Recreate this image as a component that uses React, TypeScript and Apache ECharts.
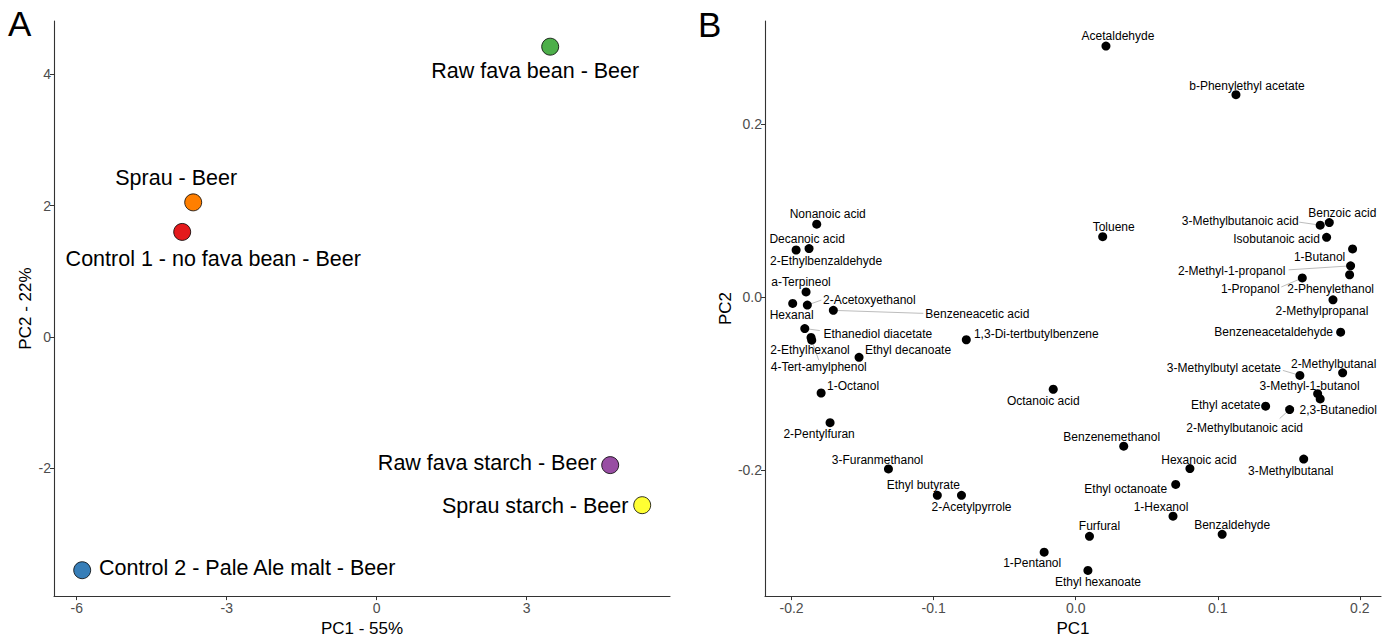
import React, { useEffect, useRef } from "react";
import * as echarts from "echarts";

// ---------- Panel A: samples ----------
const sampleNames = [
  "Raw fava bean - Beer",
  "Sprau - Beer",
  "Control 1 - no fava bean - Beer",
  "Raw fava starch - Beer",
  "Sprau starch - Beer",
  "Control 2 - Pale Ale malt - Beer",
];
const samplePC1 = [3.47, -3.67, -3.89, 4.67, 5.31, -5.89];
const samplePC2 = [4.42, 2.05, 1.6, -1.95, -2.56, -3.55];
const sampleColors = ["#4DAF4A", "#FF7F00", "#E41A1C", "#984EA3", "#FFFF33", "#377EB8"];

const ticksAx = [-6, -3, 0, 3];
const ticksAy = [-2, 0, 2, 4];

// ---------- Panel B: compounds ----------
const compoundNames = [
  "Acetaldehyde", "b-Phenylethyl acetate", "Nonanoic acid", "Decanoic acid", "2-Ethylbenzaldehyde",
  "Toluene", "a-Terpineol", "Hexanal", "2-Acetoxyethanol", "Benzeneacetic acid",
  "Ethanediol diacetate", "2-Ethylhexanol", "4-Tert-amylphenol", "Ethyl decanoate", "1,3-Di-tertbutylbenzene",
  "1-Octanol", "Octanoic acid", "2-Pentylfuran", "3-Furanmethanol", "Ethyl butyrate",
  "2-Acetylpyrrole", "Benzenemethanol", "Hexanoic acid", "3-Methylbutanal", "Ethyl octanoate",
  "1-Hexanol", "Benzaldehyde", "Furfural", "1-Pentanol", "Ethyl hexanoate",
  "Benzoic acid", "3-Methylbutanoic acid", "Isobutanoic acid", "1-Butanol", "2-Methyl-1-propanol",
  "2-Phenylethanol", "1-Propanol", "2-Methylpropanal", "Benzeneacetaldehyde", "2-Methylbutanal",
  "3-Methylbutyl acetate", "3-Methyl-1-butanol", "2,3-Butanediol", "Ethyl acetate", "2-Methylbutanoic acid",
];
const compoundPC1 = [
  0.0213, 0.1128, -0.1823, -0.1968, -0.1877,
  0.019, -0.1898, -0.1992, -0.1889, -0.1706,
  -0.1907, -0.1863, -0.1858, -0.1525, -0.077,
  -0.1792, -0.0158, -0.1729, -0.1318, -0.0974,
  -0.0804, 0.0338, 0.0804, 0.1605, 0.0704,
  0.0685, 0.1031, 0.0097, -0.0222, 0.0086,
  0.1785, 0.1721, 0.1766, 0.1949, 0.1935,
  0.1928, 0.1595, 0.1811, 0.1865, 0.1879,
  0.1578, 0.1703, 0.1721, 0.1337, 0.1506,
];
const compoundPC2 = [
  0.2897, 0.2336, 0.0841, 0.0543, 0.0559,
  0.0697, 0.0059, -0.0074, -0.0093, -0.0154,
  -0.0364, -0.0467, -0.0498, -0.0696, -0.0493,
  -0.1108, -0.1065, -0.1451, -0.1985, -0.2289,
  -0.2289, -0.1722, -0.1981, -0.1871, -0.2164,
  -0.253, -0.274, -0.2763, -0.2946, -0.3156,
  0.086, 0.083, 0.0689, 0.0555, 0.036,
  0.0257, 0.022, -0.0032, -0.0406, -0.0875,
  -0.0905, -0.1116, -0.1176, -0.126, -0.1299,
];

const ticksBx = [-0.2, -0.1, 0, 0.1, 0.2];
const ticksBy = [-0.2, 0, 0.2];

// ---------- label placement (pixel offsets of label centre from point) ----------
const sampleLabelOffset: Record<string, [number, number]> = {
  "Raw fava bean - Beer": [-15, 24],
  "Sprau - Beer": [-17, -24],
  "Control 1 - no fava bean - Beer": [31, 27],
  "Raw fava starch - Beer": [-123, -2],
  "Sprau starch - Beer": [-107, 1],
  "Control 2 - Pale Ale malt - Beer": [165, -2],
};

const compoundLabelOffset: Record<string, [number, number]> = {
  "Acetaldehyde": [12, -10],
  "b-Phenylethyl acetate": [11, -9],
  "Nonanoic acid": [11, -10],
  "Decanoic acid": [11, -11],
  "2-Ethylbenzaldehyde": [17, 12],
  "Toluene": [11, -10],
  "a-Terpineol": [-5, -10],
  "Hexanal": [-1, 12],
  "2-Acetoxyethanol": [62, -5],
  "Benzeneacetic acid": [144, 4],
  "Ethanediol diacetate": [73, 5],
  "2-Ethylhexanol": [-1, 13],
  "4-Tert-amylphenol": [7, 27],
  "Ethyl decanoate": [49, -7],
  "1,3-Di-tertbutylbenzene": [70, -6],
  "1-Octanol": [32, -7],
  "Octanoic acid": [-10, 12],
  "2-Pentylfuran": [-11, 11],
  "3-Furanmethanol": [-11, -9],
  "Ethyl butyrate": [-14, -10],
  "2-Acetylpyrrole": [10, 12],
  "Benzenemethanol": [-12, -9],
  "Hexanoic acid": [9, -9],
  "3-Methylbutanal": [-13, 12],
  "Ethyl octanoate": [-50, 5],
  "1-Hexanol": [-12, -9],
  "Benzaldehyde": [10, -9],
  "Furfural": [10, -10],
  "1-Pentanol": [-12, 11],
  "Ethyl hexanoate": [10, 12],
  "Benzoic acid": [13, -10],
  "3-Methylbutanoic acid": [-80, -4],
  "Isobutanoic acid": [-50, 2],
  "1-Butanol": [-33, 8],
  "2-Methyl-1-propanol": [-119, 5],
  "2-Phenylethanol": [-19, 14],
  "1-Propanol": [-52, 11],
  "2-Methylpropanal": [-11, 11],
  "Benzeneacetaldehyde": [-67, 0],
  "2-Methylbutanal": [-9, -9],
  "3-Methylbutyl acetate": [-76, -7],
  "3-Methyl-1-butanol": [-8, -8],
  "2,3-Butanediol": [18, 11],
  "Ethyl acetate": [-40, -1],
  "2-Methylbutanoic acid": [-45, 18],
};

// leader segment end points (pixel offsets from point)
const leaderEnd: Record<string, [number, number]> = {
  "2-Acetoxyethanol": [14, -5],
  "Benzeneacetic acid": [90, 3],
  "Ethanediol diacetate": [15, 2],
  "4-Tert-amylphenol": [7, 20],
  "3-Methylbutanoic acid": [-21, -3],
  "2-Methyl-1-propanol": [-62, 4],
  "1-Propanol": [-21, 9],
  "3-Methylbutyl acetate": [-17, -5],
  "2-Methylbutanoic acid": [-10, 9],
};

const FONT = "'Liberation Sans', Arial, Helvetica, sans-serif";
const AXIS_COLOR = "#333333";
const TICK_LABEL_COLOR = "#4D4D4D";

function axisBase(ticks: number[], fmt: (v: number) => string, margin: number) {
  return {
    type: "value" as const,
    splitLine: { show: false },
    axisLine: { show: true, onZero: false, lineStyle: { color: AXIS_COLOR, width: 1.1 } },
    axisTick: { show: true, length: 4, customValues: ticks, lineStyle: { color: AXIS_COLOR, width: 1 } },
    axisLabel: {
      customValues: ticks,
      formatter: (v: number) => fmt(v),
      color: TICK_LABEL_COLOR,
      fontSize: 14,
      fontFamily: FONT,
      margin,
    },
    nameLocation: "middle" as const,
    nameTextStyle: { color: "#000", fontSize: 17, fontFamily: FONT },
  };
}

export default function App() {
  const ref = useRef<HTMLDivElement>(null);

  useEffect(() => {
    document.body.style.margin = "0";
    if (!ref.current) return;
    const chart = echarts.init(ref.current, null, { renderer: "svg" });

    const sampleData = sampleNames.map((n, i) => ({
      name: n,
      value: [samplePC1[i], samplePC2[i]],
      itemStyle: { color: sampleColors[i] },
      label: { offset: sampleLabelOffset[n] },
    }));

    const compoundData = compoundNames.map((n, i) => ({
      name: n,
      value: [compoundPC1[i], compoundPC2[i]],
      label: { offset: compoundLabelOffset[n] },
    }));

    const leaderNames = compoundNames.filter((n) => leaderEnd[n]);
    const leaderData = leaderNames.map((n) => {
      const i = compoundNames.indexOf(n);
      return { name: n, value: [compoundPC1[i], compoundPC2[i]] };
    });

    const fmtA = (v: number) => String(v);
    const fmtB = (v: number) => v.toFixed(1);

    chart.setOption({
      animation: false,
      backgroundColor: "#ffffff",
      textStyle: { fontFamily: FONT },
      grid: [
        { left: 54, top: 21, width: 616, height: 580, containLabel: false },
        { left: 765, top: 21, width: 616, height: 580, containLabel: false },
      ],
      xAxis: [
        {
          ...axisBase(ticksAx, fmtA, 5),
          gridIndex: 0,
          min: -6.454,
          max: 5.866,
          name: "PC1 - 55%",
          nameGap: 23,
        },
        {
          ...axisBase(ticksBx, fmtB, 5),
          gridIndex: 1,
          min: -0.2187,
          max: 0.2149,
          name: "PC1",
          nameGap: 23,
        },
      ],
      yAxis: [
        {
          ...axisBase(ticksAy, fmtA, 3),
          gridIndex: 0,
          min: -3.944,
          max: 4.811,
          name: "PC2 - 22%",
          nameGap: 20,
        },
        {
          ...axisBase(ticksBy, fmtB, 3),
          gridIndex: 1,
          min: -0.3453,
          max: 0.3187,
          name: "PC2",
          nameGap: 16,
        },
      ],
      graphic: [
        { type: "text", left: 8, top: 6, style: { text: "A", fontSize: 35, fontFamily: FONT, fill: "#000" } },
        { type: "text", left: 698, top: 7, style: { text: "B", fontSize: 35, fontFamily: FONT, fill: "#000" } },
      ],
      series: [
        {
          type: "scatter",
          xAxisIndex: 0,
          yAxisIndex: 0,
          symbol: "circle",
          symbolSize: 17,
          itemStyle: { borderColor: "#000", borderWidth: 0.8, opacity: 1 },
          label: {
            show: true,
            position: "inside",
            formatter: "{b}",
            color: "#000",
            fontSize: 21.5,
            fontFamily: FONT,
          },
          emphasis: { disabled: true },
          data: sampleData,
          z: 3,
        },
        {
          type: "custom",
          xAxisIndex: 1,
          yAxisIndex: 1,
          silent: true,
          renderItem: (params: any, api: any) => {
            const p = api.coord([api.value(0), api.value(1)]);
            const e = leaderEnd[leaderNames[params.dataIndex]];
            return {
              type: "line",
              shape: { x1: p[0], y1: p[1], x2: p[0] + e[0], y2: p[1] + e[1] },
              style: { stroke: "#BDBDBD", lineWidth: 1 },
            };
          },
          data: leaderData,
          z: 1,
        },
        {
          type: "scatter",
          xAxisIndex: 1,
          yAxisIndex: 1,
          symbol: "circle",
          symbolSize: 9,
          itemStyle: { color: "#000", opacity: 1 },
          label: {
            show: true,
            position: "inside",
            formatter: "{b}",
            color: "#000",
            fontSize: 12,
            fontFamily: FONT,
          },
          emphasis: { disabled: true },
          data: compoundData,
          z: 3,
        },
      ],
    });

    return () => {
      chart.dispose();
    };
  }, []);

  return (
    <div
      ref={ref}
      style={{ position: "absolute", left: 0, top: 0, width: 1391, height: 642, background: "#fff" }}
    />
  );
}
